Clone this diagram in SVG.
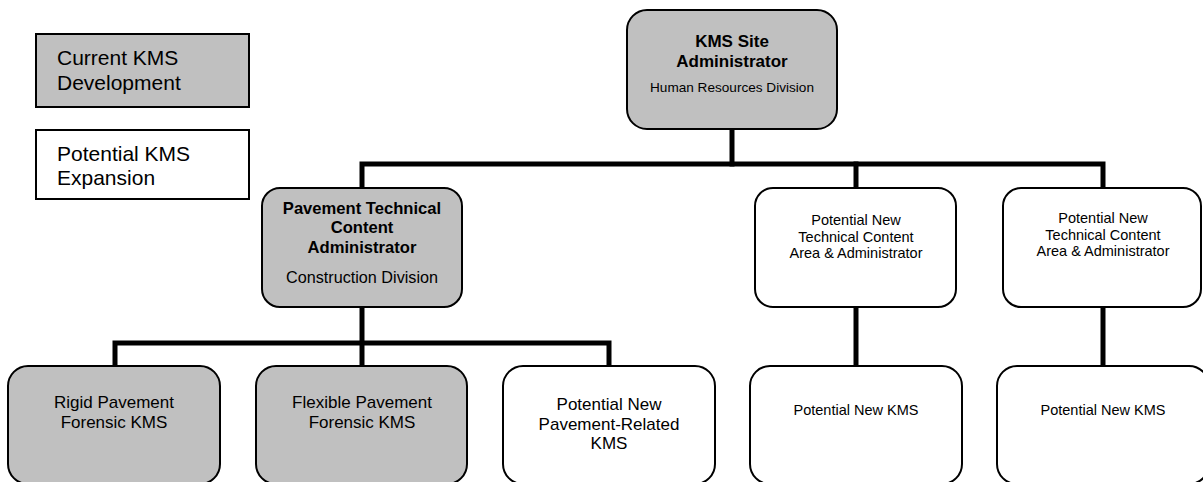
<svg xmlns="http://www.w3.org/2000/svg" width="1203" height="482" viewBox="0 0 1203 482">
<style>
.box{stroke:#000;stroke-width:2}
.cur{fill:#c0c0c0}
.pot{fill:#fff}
.conn{fill:none;stroke:#000;stroke-width:5;stroke-linejoin:miter;stroke-linecap:square}
text{font-family:"Liberation Sans",Arial,sans-serif;fill:#000}
.c{text-anchor:middle}
.b{font-weight:bold}
.leg{font-size:21px}
</style>
<rect width="1203" height="482" fill="#fff"/>
<g id="connectors">
<path class="conn" d="M362 186 V164 H1103 V186"/>
<path class="conn" d="M732 131 V164"/>
<path class="conn" d="M856 164 V186"/>
<path class="conn" d="M115 364 V343 H609 V364"/>
<path class="conn" d="M362 309 V364"/>
<path class="conn" d="M856 309 V364"/>
<path class="conn" d="M1103 309 V364"/>
</g>
<g id="legend-current">
<rect class="box cur" x="36" y="34" width="213" height="73"/>
<text class="leg" x="57" y="65">Current KMS</text>
<text class="leg" x="57" y="90">Development</text>
</g>
<g id="legend-potential">
<rect class="box pot" x="36" y="130" width="213" height="69"/>
<text class="leg" x="57" y="161">Potential KMS</text>
<text class="leg" x="57" y="185">Expansion</text>
</g>
<g id="kms-site-admin">
<rect class="box cur" x="627" y="10" width="210" height="119" rx="20"/>
<text class="c b" x="732" y="47" font-size="17">KMS Site</text>
<text class="c b" x="732" y="67" font-size="17">Administrator</text>
<text class="c" x="732" y="92" font-size="13.6">Human Resources Division</text>
</g>
<g id="pavement-admin">
<rect class="box cur" x="262" y="188" width="200" height="119" rx="18"/>
<text class="c b" x="362" y="214" font-size="16.6">Pavement Technical</text>
<text class="c b" x="362" y="233" font-size="16.6">Content</text>
<text class="c b" x="362" y="253" font-size="16.6">Administrator</text>
<text class="c" x="362" y="283" font-size="16.2">Construction Division</text>
</g>
<g id="potential-area-1">
<rect class="box pot" x="755" y="188" width="201" height="119" rx="18"/>
<text class="c" x="856" y="225" font-size="14.5">Potential New</text>
<text class="c" x="856" y="242" font-size="14.5">Technical Content</text>
<text class="c" x="856" y="258" font-size="14.5">Area &amp; Administrator</text>
</g>
<g id="potential-area-2">
<rect class="box pot" x="1003" y="188" width="198" height="119" rx="18"/>
<text class="c" x="1103" y="223" font-size="14.5">Potential New</text>
<text class="c" x="1103" y="240" font-size="14.5">Technical Content</text>
<text class="c" x="1103" y="256" font-size="14.5">Area &amp; Administrator</text>
</g>
<g id="rigid-kms">
<rect class="box cur" x="8" y="366" width="212" height="118" rx="20"/>
<text class="c" x="114" y="408" font-size="17">Rigid Pavement</text>
<text class="c" x="114" y="428" font-size="17">Forensic KMS</text>
</g>
<g id="flexible-kms">
<rect class="box cur" x="256" y="366" width="211" height="118" rx="20"/>
<text class="c" x="362" y="408" font-size="17">Flexible Pavement</text>
<text class="c" x="362" y="428" font-size="17">Forensic KMS</text>
</g>
<g id="pavement-related-kms">
<rect class="box pot" x="503" y="366" width="212" height="118" rx="20"/>
<text class="c" x="609" y="410" font-size="17">Potential New</text>
<text class="c" x="609" y="430" font-size="17">Pavement-Related</text>
<text class="c" x="609" y="449" font-size="17">KMS</text>
</g>
<g id="potential-kms-1">
<rect class="box pot" x="750" y="366" width="212" height="118" rx="20"/>
<text class="c" x="856" y="415" font-size="14.5">Potential New KMS</text>
</g>
<g id="potential-kms-2">
<rect class="box pot" x="997" y="366" width="212" height="118" rx="20"/>
<text class="c" x="1103" y="415" font-size="14.5">Potential New KMS</text>
</g>
</svg>
